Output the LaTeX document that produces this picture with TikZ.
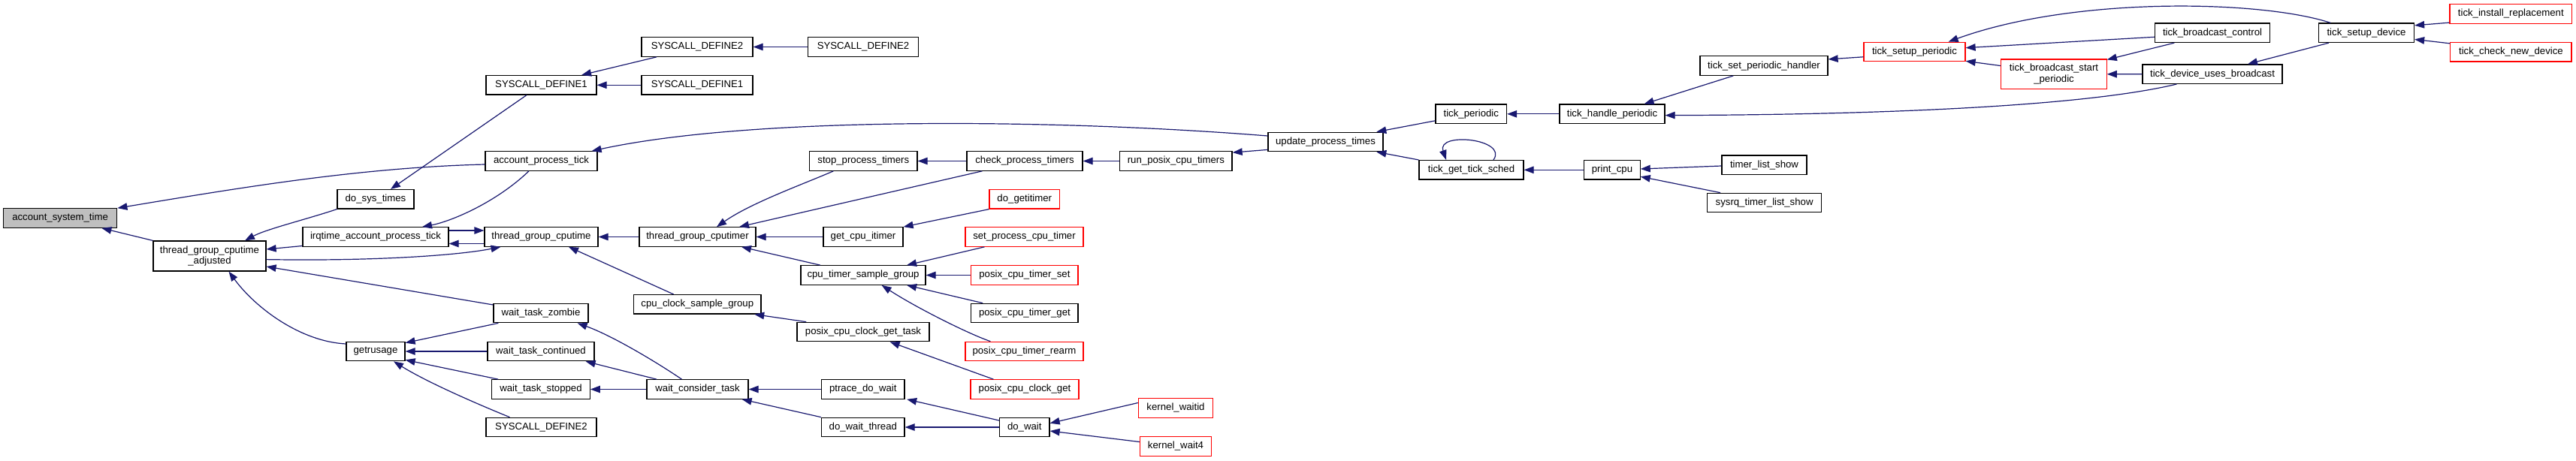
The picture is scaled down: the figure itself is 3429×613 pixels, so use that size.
\documentclass[tikz,border=0pt]{standalone}
\usepackage{fontspec}
\setmainfont{Liberation Sans}
\usetikzlibrary{arrows.meta}
\definecolor{edgeblue}{HTML}{191970}
\definecolor{nodegray}{HTML}{BFBFBF}
\begin{document}
\begin{tikzpicture}[x=1pt,y=-1pt,
  nb/.style={draw=black, line width=1.2pt, fill=white, inner sep=0pt, minimum height=25.5pt,
    font=\fontsize{13.2}{14.5}\selectfont, align=center},
  nr/.style={nb, draw=red},
  edge/.style={draw=edgeblue, line width=1.2pt, -{Triangle[length=13pt,width=9.5pt]}}]
\useasboundingbox (0,0) rectangle (3429,613);
\fill[white] (0,0) rectangle (3429,613);
% ---- nodes ----
\node[nb, fill=nodegray, minimum width=151.4pt] (ast) at (80.1,290.5) {account\_system\_time};
\node[nb, minimum width=150pt, minimum height=40pt] (tgca) at (279,341) {thread\_group\_cputime\\\_adjusted};
\node[nb, minimum width=102pt] (dst) at (500,265.3) {do\_sys\_times};
\node[nb, minimum width=194pt] (iapt) at (500,315.5) {irqtime\_account\_process\_tick};
\node[nb, minimum width=78pt] (gru) at (500,468) {getrusage};
\node[nb, minimum width=147pt] (sd1a) at (720.5,113.3) {SYSCALL\_DEFINE1};
\node[nb, minimum width=149pt] (apt) at (720.5,214.5) {account\_process\_tick};
\node[nb, minimum width=151pt] (tgc) at (720.5,315.5) {thread\_group\_cputime};
\node[nb, minimum width=126pt] (wtz) at (720,417) {wait\_task\_zombie};
\node[nb, minimum width=142pt] (wtc) at (720,468) {wait\_task\_continued};
\node[nb, minimum width=130.5pt] (wts) at (720,518.5) {wait\_task\_stopped};
\node[nb, minimum width=147pt] (sd2a) at (720.5,569) {SYSCALL\_DEFINE2};
\node[nb, minimum width=148pt] (sd2b) at (928,62.5) {SYSCALL\_DEFINE2};
\node[nb, minimum width=148pt] (sd1b) at (928,113.3) {SYSCALL\_DEFINE1};
\node[nb, minimum width=155pt] (tgcr) at (928.5,315.5) {thread\_group\_cputimer};
\node[nb, minimum width=169.4pt] (ccsg) at (928.3,405.3) {cpu\_clock\_sample\_group};
\node[nb, minimum width=135pt] (wct) at (928.5,518.5) {wait\_consider\_task};
\node[nb, minimum width=147pt] (sd2c) at (1149,62.5) {SYSCALL\_DEFINE2};
\node[nb, minimum width=143.4pt] (spt) at (1149.3,214.5) {stop\_process\_timers};
\node[nb, minimum width=106pt] (gci) at (1149,315.5) {get\_cpu\_itimer};
\node[nb, minimum width=166pt] (ctsg) at (1149,366.5) {cpu\_timer\_sample\_group};
\node[nb, minimum width=176pt] (pccgt) at (1149,442) {posix\_cpu\_clock\_get\_task};
\node[nb, minimum width=110.5pt] (pdw) at (1148.8,518.5) {ptrace\_do\_wait};
\node[nb, minimum width=110.5pt] (dwt) at (1148.8,569) {do\_wait\_thread};
\node[nb, minimum width=154pt] (cpt) at (1364,214.5) {check\_process\_timers};
\node[nr, minimum width=93.6pt] (dgi) at (1363.8,265.3) {do\_getitimer};
\node[nr, minimum width=157pt] (spct) at (1363.5,315.5) {set\_process\_cpu\_timer};
\node[nr, minimum width=142.3pt] (pcts) at (1363.9,366.5) {posix\_cpu\_timer\_set};
\node[nb, minimum width=142.3pt] (pctg) at (1363.9,417) {posix\_cpu\_timer\_get};
\node[nr, minimum width=157pt] (pctr) at (1363.5,468) {posix\_cpu\_timer\_rearm};
\node[nr, minimum width=144pt] (pccg) at (1364,518.5) {posix\_cpu\_clock\_get};
\node[nb, minimum width=66.5pt] (dw) at (1363.8,569) {do\_wait};
\node[nb, minimum width=149.3pt] (rpct) at (1565.4,214.5) {run\_posix\_cpu\_timers};
\node[nr, minimum width=99.3pt] (kwid) at (1565,543.5) {kernel\_waitid};
\node[nr, minimum width=95pt] (kw4) at (1565,594.5) {kernel\_wait4};
\node[nb, minimum width=153pt] (upt) at (1764.5,189) {update\_process\_times};
\node[nb, minimum width=94.5pt] (tp) at (1958.3,151.8) {tick\_periodic};
\node[nb, minimum width=139pt] (tgts) at (1958.5,226.3) {tick\_get\_tick\_sched};
\node[nb, minimum width=140pt] (thp) at (2146,151.8) {tick\_handle\_periodic};
\node[nb, minimum width=74.3pt] (pc) at (2146,226.3) {print\_cpu};
\node[nb, minimum width=170pt] (tsph) at (2348,87.6) {tick\_set\_periodic\_handler};
\node[nb, minimum width=113pt] (tls) at (2348.5,219.8) {timer\_list\_show};
\node[nb, minimum width=152pt] (stls) at (2348.6,270) {sysrq\_timer\_list\_show};
\node[nr, minimum width=135pt] (tsp) at (2548.5,69) {tick\_setup\_periodic};
\node[nr, minimum width=140.3pt, minimum height=39.5pt] (tbsp) at (2734,98.8) {tick\_broadcast\_start\\\_periodic};
\node[nb, minimum width=153pt] (tbc) at (2945,43.8) {tick\_broadcast\_control};
\node[nb, minimum width=186pt] (tdub) at (2945,98.7) {tick\_device\_uses\_broadcast};
\node[nb, minimum width=127pt] (tsd) at (3150,43.8) {tick\_setup\_device};
\node[nr, minimum width=162.6pt] (tir) at (3342.3,18.5) {tick\_install\_replacement};
\node[nr, minimum width=161.2pt] (tcnd) at (3342.4,69.3) {tick\_check\_new\_device};
% ---- edges ----
\draw[edge] ([yshift=-4.5pt]apt.west) .. controls (480,223) and (320,250) .. (ast.north east);
\draw[edge] (tgca.north west) -- ([xshift=-21pt]ast.south east);
\draw[edge] (dst.south west) .. controls (405,293) and (355,305) .. ([xshift=47pt]tgca.north);
\draw[edge] ([yshift=-12pt]iapt.west) -- ([yshift=9pt]tgca.east);
\draw[edge] ([yshift=-4.6pt]tgca.east) .. controls (500,348) and (610,340) .. ([xshift=-54pt]tgc.south);
\draw[edge] ([yshift=11pt]wtz.west) -- ([yshift=-14pt]tgca.east);
\draw[edge] ([yshift=10pt]gru.west) .. controls (400,455) and (340,410) .. ([xshift=25.5pt]tgca.south);
\draw[edge] ([xshift=-19.5pt]sd1a.south) -- ([xshift=20pt]dst.north);
\draw[edge] ([xshift=-16.5pt]apt.south) .. controls (660,270) and (600,295) .. ([xshift=62pt]iapt.north);
\draw[edge] ([yshift=8.5pt]iapt.east) -- ([yshift=8.5pt]tgc.west);
\draw[edge] ([yshift=-9pt]tgc.west) -- ([yshift=-9pt]iapt.east);
\draw[edge] ([xshift=7pt]wtz.south west) -- ([yshift=-2pt]gru.north east);
\draw[edge] (wtc.west) -- (gru.east);
\draw[edge] ([xshift=9pt]wts.north west) -- ([yshift=2pt]gru.south east);
\draw[edge] ([xshift=-42pt]sd2a.north) .. controls (640,540) and (570,510) .. ([xshift=24pt]gru.south);
\draw[edge] ([xshift=20.7pt]sd2b.south west) -- ([xshift=-20.5pt]sd1a.north east);
\draw[edge] (sd1b.west) -- (sd1a.east);
\draw[edge] (sd2c.west) -- (sd2b.east);
\draw[edge] ([yshift=8pt]upt.west) .. controls (1400,158) and (1000,155) .. ([xshift=-8pt]apt.north east);
\draw[edge] (tgcr.west) -- (tgc.east);
\draw[edge] ([xshift=-31.7pt]ccsg.north) -- ([xshift=36.5pt]tgc.south);
\draw[edge] ([xshift=-21pt]wct.north) .. controls (875,483) and (815,447) .. ([xshift=-15pt]wtz.south east);
\draw[edge] ([xshift=13.7pt]wct.north west) -- ([xshift=-12pt]wtc.south east);
\draw[edge] (wct.west) -- (wts.east);
\draw[edge] ([xshift=-40pt]spt.south) .. controls (1070,245) and (1000,270) .. ([xshift=25.5pt]tgcr.north);
\draw[edge] ([xshift=21pt]cpt.south west) -- ([xshift=55.5pt]tgcr.north);
\draw[edge] (gci.west) -- (tgcr.east);
\draw[edge] ([xshift=26.5pt]ctsg.north west) -- ([xshift=58.5pt]tgcr.south);
\draw[edge] (cpt.west) -- (spt.east);
\draw[edge] (dgi.south west) -- (gci.north east);
\draw[edge] ([xshift=26pt]spct.south west) -- ([xshift=-25.5pt]ctsg.north east);
\draw[edge] (pcts.west) -- (ctsg.east);
\draw[edge] ([xshift=16pt]pctg.north west) -- ([xshift=-25.5pt]ctsg.south east);
\draw[edge] ([xshift=34pt]pctr.north west) .. controls (1290,445) and (1220,410) .. ([xshift=24.6pt]ctsg.south);
\draw[edge] ([xshift=12.8pt]pccgt.north west) -- ([xshift=-9.4pt]ccsg.south east);
\draw[edge] ([xshift=31pt]pccg.north west) -- ([xshift=35.6pt]pccgt.south);
\draw[edge] (pdw.west) -- (wct.east);
\draw[edge] (dwt.north west) -- ([xshift=-9pt]wct.south east);
\draw[edge] ([yshift=9pt]dw.west) -- ([xshift=2.5pt]pdw.south east);
\draw[edge] (dw.west) -- (dwt.east);
\draw[edge] ([yshift=7pt]kwid.west) -- ([yshift=5.3pt]dw.east);
\draw[edge] ([yshift=6pt]kw4.west) -- ([yshift=-5pt]dw.east);
\draw[edge] (rpct.west) -- (cpt.east);
\draw[edge] ([yshift=-10.4pt]upt.west) -- ([yshift=-2pt]rpct.north east);
\draw[edge] ([yshift=-9pt]tp.west) -- ([xshift=-9.3pt]upt.north east);
\draw[edge] (tgts.north west) -- ([xshift=-9.3pt]upt.south east);
\draw[edge] ([xshift=29.5pt]tgts.north) .. controls (2008,185) and (1912,175) .. ([xshift=-33.5pt]tgts.north);
\draw[edge] (thp.west) -- (tp.east);
\draw[edge] (pc.west) -- (tgts.east);
\draw[edge] ([xshift=44.8pt]tsph.south west) -- ([xshift=-28pt]thp.north east);
\draw[edge] ([xshift=46pt]tdub.south west) .. controls (2760,145) and (2450,153) .. ([yshift=-1.8pt]thp.east);
\draw[edge] ([yshift=-1.2pt]tls.west) -- ([yshift=1.3pt]pc.east);
\draw[edge] ([xshift=18pt]stls.north west) -- ([yshift=4.4pt]pc.south east);
\draw[edge] ([yshift=-6.8pt]tsp.west) -- ([yshift=-4.7pt]tsph.north east);
\draw[edge] ([xshift=16.4pt]tsd.north west) .. controls (3010,0) and (2760,-5) .. ([xshift=-23pt]tsp.north east);
\draw[edge] ([yshift=-5.5pt]tbc.west) -- ([yshift=5.3pt]tsp.east);
\draw[edge] ([yshift=11.2pt]tbsp.west) -- ([yshift=1pt]tsp.south east);
\draw[edge] ([xshift=26.3pt]tbc.south west) -- ([yshift=-1pt]tbsp.north east);
\draw[edge] (tdub.west) -- (tbsp.east);
\draw[edge] ([xshift=14pt]tsd.south west) -- ([xshift=47pt]tdub.north);
\draw[edge] ([yshift=1.7pt]tir.south west) -- ([yshift=-3.4pt]tsd.north east);
\draw[edge] ([yshift=-1.9pt]tcnd.north west) -- ([yshift=4.7pt]tsd.south east);
\end{tikzpicture}
\end{document}
